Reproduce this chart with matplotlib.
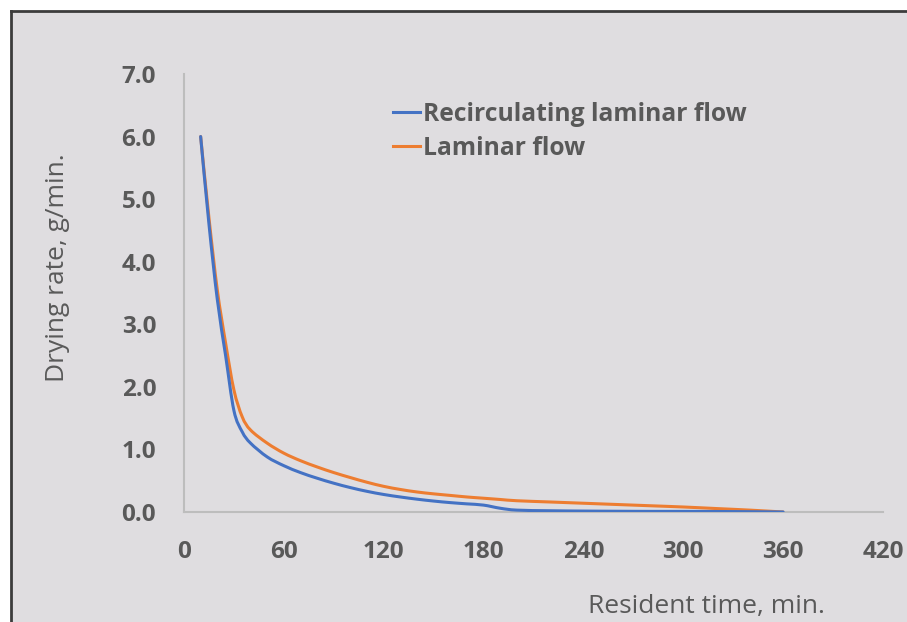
import matplotlib
matplotlib.use("Agg")
import matplotlib.pyplot as plt
from matplotlib.lines import Line2D
from matplotlib.patches import Rectangle, PathPatch
from matplotlib.path import Path

# Data
times = [10, 15, 20, 25, 30, 35, 40, 50, 60, 70, 80, 90, 100, 110, 120, 130, 140,
         150, 160, 170, 180, 190, 200, 220, 240, 260, 280, 300, 320, 340, 360]
recirculating = [6.0, 4.6, 3.4, 2.5, 1.62, 1.28, 1.1, 0.88, 0.74, 0.63, 0.54, 0.46,
                 0.39, 0.33, 0.28, 0.24, 0.205, 0.175, 0.15, 0.13, 0.11, 0.06, 0.03,
                 0.02, 0.015, 0.012, 0.01, 0.01, 0.008, 0.005, 0.0]
laminar = [6.0, 4.7, 3.55, 2.7, 1.95, 1.52, 1.31, 1.1, 0.94, 0.82, 0.72, 0.63,
           0.55, 0.475, 0.41, 0.36, 0.32, 0.29, 0.265, 0.24, 0.22, 0.20, 0.18,
           0.16, 0.14, 0.12, 0.10, 0.08, 0.055, 0.03, 0.0]
series_names = ["Recirculating laminar flow", "Laminar flow"]
x_ticks = [0, 60, 120, 180, 240, 300, 360, 420]
y_ticks = [0, 1, 2, 3, 4, 5, 6, 7]
x_label = "Resident time, min."
y_label = "Drying rate, g/min."

BLUE = "#4472C4"
ORANGE = "#ED7D31"
TXT = "#595959"
BG = "#dfdde0"

plt.rcParams["font.family"] = ["Open Sans", "DejaVu Sans"]


def smooth_path(xs, ys):
    """Excel-style smoothed line: Catmull-Rom segments as cubic Beziers."""
    pts = list(zip(xs, ys))
    n = len(pts)
    verts = [pts[0]]
    codes = [Path.MOVETO]
    for i in range(n - 1):
        p0 = pts[i - 1] if i > 0 else pts[i]
        p1 = pts[i]
        p2 = pts[i + 1]
        p3 = pts[i + 2] if i + 2 < n else pts[i + 1]
        c1 = (p1[0] + (p2[0] - p0[0]) / 6.0, p1[1] + (p2[1] - p0[1]) / 6.0)
        c2 = (p2[0] - (p3[0] - p1[0]) / 6.0, p2[1] - (p3[1] - p1[1]) / 6.0)
        verts += [c1, c2, p2]
        codes += [Path.CURVE4] * 3
    return Path(verts, codes)


fig = plt.figure(figsize=(9.07, 6.22), dpi=100)
fig.patch.set_facecolor("white")
W, H = 907, 622
fig.add_artist(Rectangle((11 / W, 0), 1 - 11 / W, 1 - 11 / H, transform=fig.transFigure,
                         facecolor=BG, edgecolor="none", zorder=-10))
fig.add_artist(Line2D([11 / W, 11 / W], [0, 1 - 11 / H], transform=fig.transFigure,
                      color="#3c3c3c", lw=2))
fig.add_artist(Line2D([11 / W, 1], [1 - 11 / H, 1 - 11 / H], transform=fig.transFigure,
                      color="#3c3c3c", lw=2))

ax = fig.add_axes([184 / W, 1 - 512 / H, (883 - 184) / W, (512 - 74) / H])
ax.set_facecolor("none")
ax.add_patch(PathPatch(smooth_path(times, laminar), facecolor="none", edgecolor=ORANGE,
                       lw=2.2, zorder=2, capstyle="round", joinstyle="round"))
ax.add_patch(PathPatch(smooth_path(times, recirculating), facecolor="none", edgecolor=BLUE,
                       lw=2.2, zorder=3, capstyle="round", joinstyle="round"))

ax.set_xlim(0, 420)
ax.set_ylim(0, 7)
ax.set_xticks(x_ticks)
ax.set_yticks(y_ticks)
ax.set_xticklabels([str(v) for v in x_ticks])
ax.set_yticklabels([f"{v:.1f}" for v in y_ticks])
ax.tick_params(length=0, colors=TXT, labelsize=17.5)
ax.tick_params(axis="x", pad=20)
ax.tick_params(axis="y", pad=20)
for lab in ax.get_xticklabels() + ax.get_yticklabels():
    lab.set_fontweight("bold")
    lab.set_color(TXT)

for s in ["top", "right"]:
    ax.spines[s].set_visible(False)
for s in ["left", "bottom"]:
    ax.spines[s].set_color("#bdbdbd")
    ax.spines[s].set_linewidth(1.5)

fig.text(825 / W, 1 - 606 / H, x_label, ha="right", va="center", fontsize=19, color=TXT)
fig.text(58 / W, 1 - 268 / H, y_label, ha="center", va="center", rotation=90,
         fontsize=19, color=TXT)

handles = [Line2D([], [], color=BLUE, lw=2.2), Line2D([], [], color=ORANGE, lw=2.2)]
leg = ax.legend(handles, series_names, loc="upper left",
                bbox_to_anchor=((383 - 184) / (883 - 184), (512 - 92) / (512 - 74)),
                frameon=False, handlelength=1.1, handletextpad=0.12, labelspacing=0.36,
                borderaxespad=0, prop={"weight": "bold", "size": 17.7})
for t in leg.get_texts():
    t.set_color(TXT)

fig.savefig("out.png", dpi=100, facecolor=fig.get_facecolor())
